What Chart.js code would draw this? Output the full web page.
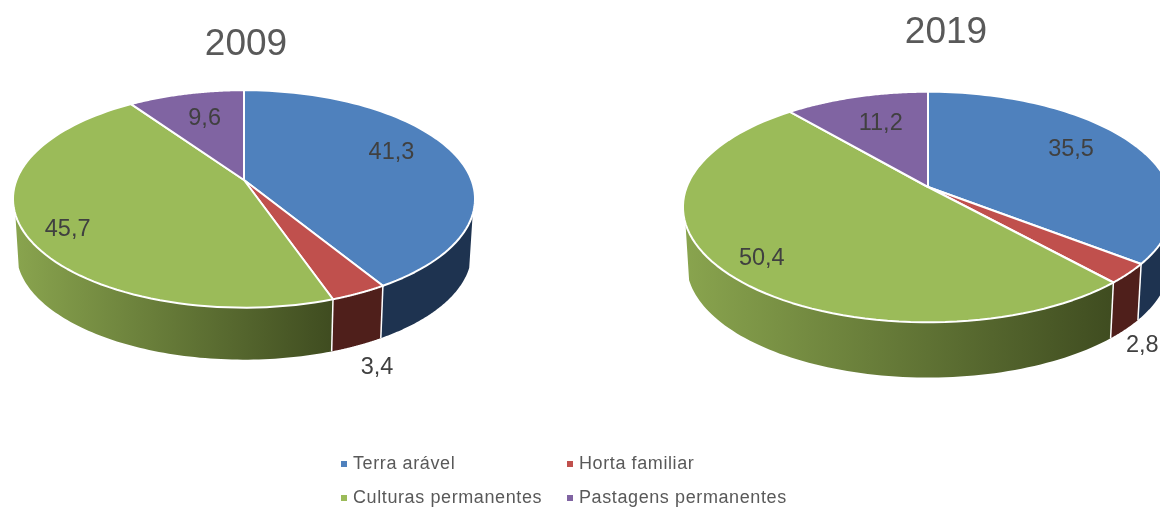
<!DOCTYPE html>
<html>
<head>
<meta charset="utf-8">
<script src="https://cdn.jsdelivr.net/npm/chart.js@4"></script>
<style>
  html, body { margin: 0; padding: 0; background: #fff; width: 1160px; height: 507px; overflow: hidden; }
  canvas { position: absolute; top: 0; }
  #chart2009 { left: 0; }
  #chart2019 { left: 662px; }
  #legend {
    position: absolute; left: 341px; top: 447px;
    display: grid; grid-template-columns: 226px auto; grid-auto-rows: 33.5px; align-items: center;
    font: 18px "Liberation Sans", Arial, sans-serif; color: #595959; letter-spacing: 0.6px;
  }
  #legend span { display: inline-block; width: 6px; height: 6px; margin-right: 6px; vertical-align: 2px; }
</style>
</head>
<body>
<canvas id="chart2009" width="492" height="507"></canvas>
<canvas id="chart2019" width="568" height="507"></canvas>
<div id="legend"></div>
<script>
const categories = ["Terra arável", "Horta familiar", "Culturas permanentes", "Pastagens permanentes"];
const values2009 = [41.3, 3.4, 45.7, 9.6];
const values2019 = [35.5, 2.8, 50.4, 11.2];

const faceColors = ["#4f81bd", "#c0504d", "#9bbb59", "#8064a2"];
const wallColors = [["#1e3350", "#1e3350"], ["#4f1f1b", "#4f1f1b"], ["#89a44e", "#3f4c20"], ["#4d3c61", "#4d3c61"]];

// the tilted disc: near side bigger than the far side, so the apex sits above the ellipse middle
const PERSPECTIVE = 0.174;
const TILT = 0.4635;
const DEPTH = 0.237;
const FRONT_FROM = 18 * Math.PI / 180;
const FRONT_TO = 162 * Math.PI / 180;

function project(c, rx, angle, frac, lower) {
  const X = frac * Math.cos(angle);
  const Y = frac * Math.sin(angle);
  const w = 1 - PERSPECTIVE * Y;
  const sx = lower ? 0.985 : 1;
  const sy = lower ? 0.985 : 1;
  return {
    x: c.x + rx * sx * X / w,
    y: c.y + (lower ? rx * DEPTH : 0) + rx * TILT * sy * Y / w
  };
}

function traceArc(ctx, c, rx, from, to, lower, first) {
  const steps = 80;
  for (let i = 0; i <= steps; i++) {
    const p = project(c, rx, from + (to - from) * i / steps, 1, lower);
    if (i === 0 && first) ctx.moveTo(p.x, p.y);
    else ctx.lineTo(p.x, p.y);
  }
}

const pie3d = {
  id: "pie3d",
  beforeDatasetDraw(chart, args, opts) {
    const ctx = chart.ctx;
    const arcs = chart.getDatasetMeta(0).data;
    const rx = opts.rx;
    const c = { x: arcs[0].x + opts.shiftX, y: arcs[0].y };

    // side wall, only the part facing us
    arcs.forEach((el, i) => {
      const from = Math.max(el.startAngle, FRONT_FROM);
      const to = Math.min(el.endAngle, FRONT_TO);
      if (to <= from) return;
      const left = project(c, rx, to, 1, false).x;
      const right = project(c, rx, from, 1, false).x;
      const grad = ctx.createLinearGradient(left, 0, right, 0);
      grad.addColorStop(0, wallColors[i][0]);
      grad.addColorStop(1, wallColors[i][1]);
      ctx.beginPath();
      traceArc(ctx, c, rx, from, to, false, true);
      traceArc(ctx, c, rx, to, from, true, false);
      ctx.closePath();
      ctx.fillStyle = grad;
      ctx.fill();
    });

    // white seams on the wall
    arcs.forEach((el) => {
      if (el.endAngle <= FRONT_FROM || el.endAngle >= FRONT_TO) return;
      const a = project(c, rx, el.endAngle, 1, false);
      const b = project(c, rx, el.endAngle, 1, true);
      ctx.beginPath();
      ctx.moveTo(a.x, a.y);
      ctx.lineTo(b.x, b.y);
      ctx.strokeStyle = "#fff";
      ctx.lineWidth = 1.5;
      ctx.stroke();
    });

    // top face
    arcs.forEach((el, i) => {
      ctx.beginPath();
      ctx.moveTo(c.x, c.y);
      traceArc(ctx, c, rx, el.startAngle, el.endAngle, false, false);
      ctx.closePath();
      ctx.fillStyle = faceColors[i];
      ctx.fill();
      ctx.strokeStyle = "#fff";
      ctx.lineWidth = 2;
      ctx.lineJoin = "round";
      ctx.stroke();
    });
    return false;
  },
  afterDatasetsDraw(chart, args, opts) {
    const ctx = chart.ctx;
    const arcs = chart.getDatasetMeta(0).data;
    const values = chart.data.datasets[0].data;
    const c = { x: arcs[0].x + opts.shiftX, y: arcs[0].y };
    ctx.font = '23.5px "Liberation Sans", Arial, sans-serif';
    ctx.fillStyle = "#404040";
    ctx.textAlign = "center";
    ctx.textBaseline = "middle";
    arcs.forEach((el, i) => {
      const mid = (el.startAngle + el.endAngle) / 2;
      const spot = opts.labels[i];
      const p = project(c, opts.rx, mid, spot.frac, false);
      const drop = spot.below ? opts.rx * DEPTH : 0;
      ctx.fillText(values[i].toFixed(1).replace(".", ","), p.x + spot.dx, p.y + drop + spot.dy);
    });
  }
};

function makeChart(canvasId, year, values, titleTop, paddingBottom, pieOpts) {
  return new Chart(document.getElementById(canvasId), {
    type: "pie",
    data: {
      labels: categories,
      datasets: [{ data: values, backgroundColor: faceColors, borderColor: "#fff" }]
    },
    options: {
      responsive: false,
      animation: false,
      layout: { padding: { bottom: paddingBottom } },
      plugins: {
        legend: { display: false },
        tooltip: { enabled: false },
        title: {
          display: true,
          text: year,
          color: "#595959",
          font: { family: '"Liberation Sans", Arial, sans-serif', size: 37, weight: "normal" },
          padding: { top: titleTop, bottom: 0 }
        },
        pie3d: pieOpts
      }
    },
    plugins: [pie3d]
  });
}

makeChart("chart2009", "2009", values2009, 23, 214.4, {
  rx: 227.5,
  shiftX: -2,
  labels: [
    { frac: 0.7, dx: -1, dy: -8 },
    { frac: 1, below: true, dx: 18, dy: 20 },
    { frac: 0.7, dx: -26, dy: 14 },
    { frac: 0.7, dx: 3, dy: 2 }
  ]
});

makeChart("chart2019", "2019", values2019, 11, 188.4, {
  rx: 241.3,
  shiftX: -18,
  labels: [
    { frac: 0.7, dx: -1, dy: -5 },
    { frac: 1, below: true, dx: 14, dy: 15 },
    { frac: 0.7, dx: -28, dy: 15 },
    { frac: 0.7, dx: 5, dy: 2 }
  ]
});

// legend is two aligned columns, which the built in one cannot do
document.getElementById("legend").innerHTML = categories
  .map((name, i) => `<div><span style="background:${faceColors[i]}"></span>${name}</div>`)
  .join("");
</script>
</body>
</html>
